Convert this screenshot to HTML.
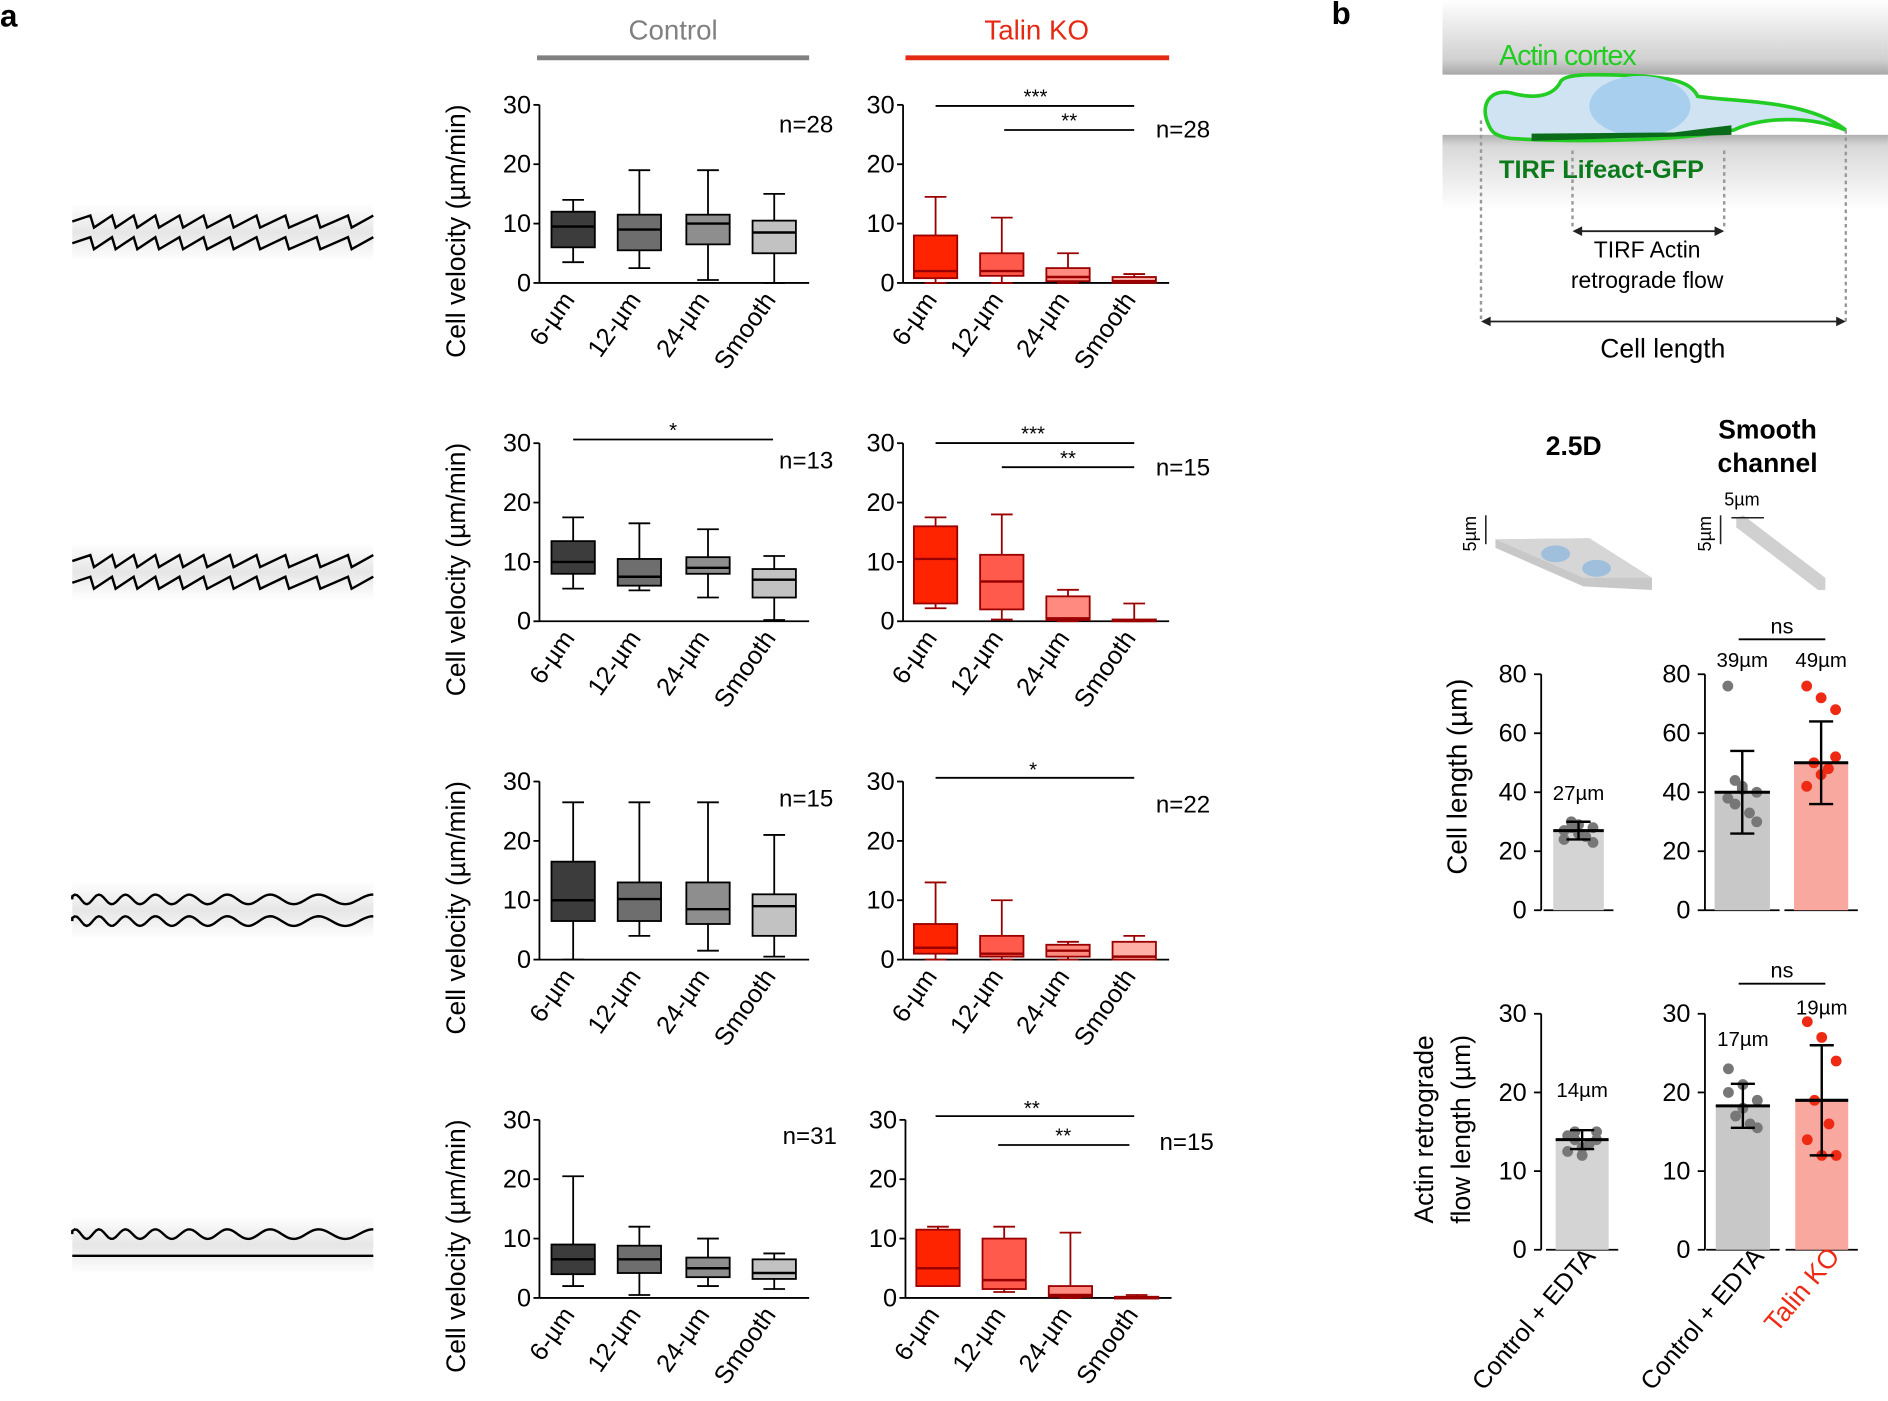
<!DOCTYPE html>
<html><head><meta charset="utf-8"><style>
html,body{margin:0;padding:0;background:#fff}
svg{display:block;font-family:"Liberation Sans",Arial,sans-serif}
</style></head><body>
<svg id="s" width="1888" height="1401" viewBox="0 0 1568 1163.6" xmlns="http://www.w3.org/2000/svg">
<defs>
<linearGradient id="gt" x1="0" y1="0" x2="0" y2="1"><stop offset="0" stop-color="#fff"/><stop offset="0.8" stop-color="#d0d0d0"/><stop offset="1" stop-color="#a8a8a8"/></linearGradient>
<linearGradient id="gb" x1="0" y1="0" x2="0" y2="1"><stop offset="0" stop-color="#b0b0b0"/><stop offset="0.15" stop-color="#d8d8d8"/><stop offset="1" stop-color="#fff"/></linearGradient>
<linearGradient id="ch" x1="0" y1="0" x2="0" y2="1"><stop offset="0" stop-color="#fff"/><stop offset="0.5" stop-color="#e6e6e6"/><stop offset="1" stop-color="#fff"/></linearGradient>
</defs>
<g id="g"></g>
<text x="0" y="22" font-size="26" font-weight="bold">a</text>
<text x="1106" y="20" font-size="26" font-weight="bold">b</text>
<text x="559" y="33" font-size="23" fill="#808080" text-anchor="middle">Control</text>
<line x1="446" y1="48" x2="672" y2="48" stroke="#808080" stroke-width="4"/>
<text x="861" y="33" font-size="23" fill="#e52a14" text-anchor="middle">Talin KO</text>
<line x1="752" y1="48" x2="971" y2="48" stroke="#e52a14" stroke-width="4"/>

<rect x="1198" y="0" width="370" height="62" fill="url(#gt)"/>
<rect x="1198" y="112" width="370" height="62" fill="url(#gb)"/>
<path d="M1236,103 C1228,85 1240,72 1258,78 C1275,82 1290,80 1296,68 C1300,60 1330,62 1360,63 C1395,65 1405,70 1410,80 C1440,85 1500,82 1533,108 C1500,95 1460,98 1440,108 C1390,118 1300,118 1255,115 C1240,113 1238,108 1236,103 Z" fill="#cfe3f3" stroke="#22cc22" stroke-width="3"/>
<ellipse cx="1362" cy="88" rx="42" ry="25" fill="#a9cfee"/>
<path d="M1272,117 L1438,112 L1438,104 L1390,110 L1272,111 Z" fill="#0a6b1a"/>
<text x="1245" y="54" font-size="24" fill="#22cc22" letter-spacing="-1">Actin cortex</text>
<text x="1245" y="148" font-size="21" font-weight="bold" fill="#0a7a1a">TIRF Lifeact-GFP</text>
<g stroke="#999" stroke-width="2" stroke-dasharray="3,3" fill="none">
<line x1="1230" y1="100" x2="1230" y2="268"/><line x1="1533" y1="108" x2="1533" y2="268"/>
<line x1="1306" y1="125" x2="1306" y2="190"/><line x1="1432" y1="125" x2="1432" y2="190"/>
</g>
<g stroke="#222" stroke-width="1.5"><line x1="1308" y1="192" x2="1430" y2="192"/><line x1="1232" y1="267" x2="1531" y2="267"/></g>
<path d="M1306,192 l8,-4 v8z M1432,192 l-8,-4 v8z M1230,267 l8,-4 v8z M1533,267 l-8,-4 v8z" fill="#222"/>
<text x="1368" y="214" font-size="19" text-anchor="middle">TIRF Actin</text>
<text x="1368" y="239" font-size="19" text-anchor="middle">retrograde flow</text>
<text x="1381" y="297" font-size="22" text-anchor="middle">Cell length</text>
<text x="1307" y="378" font-size="22" font-weight="bold" text-anchor="middle">2.5D</text>
<text x="1468" y="364" font-size="22" font-weight="bold" text-anchor="middle">Smooth</text>
<text x="1468" y="392" font-size="22" font-weight="bold" text-anchor="middle">channel</text>
<path d="M1242,448 L1320,447 L1372,480 L1372,490 L1315,487 L1242,455 Z" fill="#c8c8c8"/>
<path d="M1242,448 L1320,447 L1372,480 L1315,480 Z" fill="#d6d6d6"/>
<ellipse cx="1292" cy="460" rx="12" ry="7" fill="#9fbfdc"/><ellipse cx="1326" cy="472" rx="12" ry="7" fill="#9fbfdc"/>
<path d="M1442,430 L1448,428 L1516,480 L1516,490 L1510,490 L1442,438 Z" fill="#d0d0d0"/>
<g stroke="#222" stroke-width="1.3"><line x1="1234" y1="428" x2="1234" y2="452"/><line x1="1429" y1="428" x2="1429" y2="452"/><line x1="1438" y1="430" x2="1465" y2="430"/></g>
<text transform="translate(1226,458) rotate(-90)" font-size="15">5µm</text>
<text transform="translate(1421,458) rotate(-90)" font-size="15">5µm</text>
<text x="1432" y="420" font-size="15">5µm</text>
</svg>
<script>
const g=document.getElementById('g');let h='';
function L(x1,y1,x2,y2,c,w){h+=`<line x1="${x1}" y1="${y1}" x2="${x2}" y2="${y2}" stroke="${c||'#000'}" stroke-width="${w||1.5}"/>`}
function T(x,y,t,o){o=o||{};h+=`<text x="${x}" y="${y}" font-size="${o.s||20}" fill="${o.c||'#000'}" text-anchor="${o.a||'start'}"${o.r!==undefined?` transform="rotate(${o.r} ${x} ${y})"`:''}${o.b?' font-weight="bold"':''}>${t}</text>`}
const CC=['#3c3c3c','#6e6e6e','#8e8e8e','#c2c2c2'],KC=['#ff2400','#ff5a4c','#ff8a80','#ffb0a6'];
const rows=[235,516,797,1078];
const D=[
[[3.5,6,9.5,12,14],[2.5,5.5,9,11.5,19],[0.5,6.5,10,11.5,19],[0,5,8.5,10.5,15]],
[[0,0.8,2,8,14.5],[0,1.2,2,5,11],[0,0.3,1,2.5,5],[0,0,0.3,1,1.5]],
[[5.5,8,10,13.5,17.5],[5.2,6,7.5,10.5,16.5],[4,8,9,10.8,15.5],[0.2,4,7,8.8,11]],
[[2.2,3,10.5,16,17.5],[0.3,2,6.7,11.2,18],[0,0.2,0.5,4.2,5.3],[0,0,0.1,0.3,3]],
[[0,6.5,10,16.5,26.5],[4,6.5,10.2,13,26.5],[1.5,6,8.5,13,26.5],[0.5,4,9,11,21]],
[[0,1,2,6,13],[0,0.5,1,4,10],[0,0.5,1.5,2.5,3],[0,0,0.5,3,4]],
[[2,4,6.5,9,20.5],[0.5,4.2,6.5,8.8,12],[2,3.5,5,6.8,10],[1.5,3.2,4.2,6.5,7.5]],
[[2,2,5,11.5,12],[1,1.5,3,10,12],[0,0.2,0.5,2,11],[0,0,0.1,0.2,0.5]]];
const cats=['6-µm','12-µm','24-µm','Smooth'];
function box(ax,y0,data,cols,sc,xs){
  const Y=v=>y0-v*4.93;
  L(ax,y0,ax,y0-148);L(ax,y0,ax+(ax<700?224:221),y0);
  [0,10,20,30].forEach(v=>{L(ax-5,Y(v),ax,Y(v));T(ax-7,Y(v)+7,v,{a:'end',s:21})});
  data.forEach((d,i)=>{const x=xs[i],w=36;const s=sc;
    L(x,Y(d[0]),x,Y(d[1]),s);L(x,Y(d[3]),x,Y(d[4]),s);L(x-9,Y(d[0]),x+9,Y(d[0]),s);L(x-9,Y(d[4]),x+9,Y(d[4]),s);
    h+=`<rect x="${x-w/2}" y="${Y(d[3])}" width="${w}" height="${Math.max(Y(d[1])-Y(d[3]),1.5)}" fill="${cols[i]}" stroke="${s}" stroke-width="1.5"/>`;
    L(x-w/2,Y(d[2]),x+w/2,Y(d[2]),s,2);
    T(x+2,y0+14,cats[i],{a:'end',r:-55,s:21});
  });
  if(ax<700) T(386,y0-43,'Cell velocity (µm/min)',{a:'middle',r:-90,s:22});
}
rows.forEach((y0,r)=>{
  box(448,y0,D[2*r],CC,'#000',[476,531,588,643]);
  box(750+(r==3?2:0),y0,D[2*r+1],KC,'#9a0000',[777,832,887,942].map(v=>v+(r==3?2:0)));
});
T(647,110,'n=28');T(960,114,'n=28');
L(777,88,942,88);T(860,86,'***',{a:'middle',s:17});L(834,108,942,108);T(888,106,'**',{a:'middle',s:17});
L(476,365,642,365);T(559,363,'*',{a:'middle',s:17});T(647,389,'n=13');
L(777,368,942,368);T(858,366,'***',{a:'middle',s:17});L(832,388,942,388);T(887,386,'**',{a:'middle',s:17});T(960,395,'n=15');
T(647,670,'n=15');L(777,646,942,646);T(858,645,'*',{a:'middle',s:17});T(960,675,'n=22');
T(650,950,'n=31');L(777,927,942,927);T(857,926,'**',{a:'middle',s:17});L(829,951,938,951);T(883,949,'**',{a:'middle',s:17});T(963,955,'n=15');
function chan(y,t1,t2){h+=`<rect x="60" y="${y-24}" width="250" height="48" fill="url(#ch)"/>`;
 [t1,t2].forEach((t,k)=>{const yy=y+(k?9:-9);let p='';
  if(t=='z'){p=`M60,${yy}`;const pts=[18,36,54,72,92,112,134,156,180,206,232];pts.forEach(d=>{p+=` L${60+d-3},${yy-5} L${60+d},${yy+5}`});p+=` L310,${yy-5}`;}
  else if(t=='w'){p=`M60,${yy}`;let ph=0;for(let x=60;x<=310;x+=2){ph+=2*Math.PI*2/(18+(x-60)*0.12);p+=` L${x},${(yy-4*Math.sin(ph)).toFixed(1)}`}}
  else p=`M60,${yy} L310,${yy}`;
  h+=`<path d="${p}" fill="none" stroke="#000" stroke-width="2"/>`;});}
chan(193,'z','z');chan(475,'z','z');chan(756,'w','w');chan(1034,'w','s');
function bars(ax,y0,top,max,ticks,barsd){
 const Y=v=>y0-(v/max)*(y0-top);
 L(ax,y0,ax,top);ticks.forEach(v=>{L(ax-6,Y(v),ax,Y(v));T(ax-12,Y(v)+7,v,{a:'end',s:21})});
 barsd.forEach(b=>{L(b.x0-8,y0,b.x1+8,y0);
  h+=`<rect x="${b.x0}" y="${Y(b.m)}" width="${b.x1-b.x0}" height="${y0-Y(b.m)}" fill="${b.c}"/>`;
  const cx=(b.x0+b.x1)/2;b.p.forEach((v,i)=>{h+=`<circle cx="${cx+((i*7)%5-2)*6}" cy="${Y(v)}" r="4.5" fill="${b.pc}"/>`});
  L(cx,Y(b.m-b.sd),cx,Y(b.m+b.sd),'#000',2);L(cx-10,Y(b.m+b.sd),cx+10,Y(b.m+b.sd),'#000',2);L(cx-10,Y(b.m-b.sd),cx+10,Y(b.m-b.sd),'#000',2);
  L(b.x0,Y(b.m),b.x1,Y(b.m),'#000',2.5);
  T(cx,Y(b.lab)-6,b.lt,{a:'middle',s:17});});
}
bars(1280,756,560,80,[0,20,40,60,80],[{x0:1290,x1:1332,m:27,sd:3,c:'#d4d4d4',pc:'#777',p:[24,26,28,30,25,27,29,23,28],lab:35,lt:'27µm'}]);
bars(1416,756,560,80,[0,20,40,60,80],[
 {x0:1424,x1:1470,m:40,sd:14,c:'#c8c8c8',pc:'#777',p:[76,42,40,36,33,38,41,30,44],lab:80,lt:'39µm'},
 {x0:1490,x1:1535,m:50,sd:14,c:'#f8a89e',pc:'#ee2a14',p:[76,72,68,50,48,42,46,52],lab:80,lt:'49µm'}]);
bars(1280,1038,842,30,[0,10,20,30],[{x0:1292,x1:1336,m:14,sd:1.2,c:'#d4d4d4',pc:'#777',p:[12.5,13,14,15,13.5,14.5,12,15,14],lab:18.5,lt:'14µm'}]);
bars(1416,1038,842,30,[0,10,20,30],[
 {x0:1425,x1:1470,m:18.3,sd:2.8,c:'#c8c8c8',pc:'#777',p:[23,21,19,17,16,20,18,15.5],lab:25,lt:'17µm'},
 {x0:1491,x1:1535,m:19,sd:7,c:'#f8a89e',pc:'#ee2a14',p:[29,27,24,19,16,14,12,12],lab:29,lt:'19µm'}]);
L(1444,531,1516,531);T(1480,526,'ns',{a:'middle',s:18});
L(1444,817,1516,817);T(1480,812,'ns',{a:'middle',s:18});
T(1218,645,'Cell length (µm)',{a:'middle',r:-90,s:23});
T(1190,938,'Actin retrograde',{a:'middle',r:-90,s:22});
T(1221,938,'flow length (µm)',{a:'middle',r:-90,s:22});
T(1326,1044,'Control + EDTA',{a:'end',r:-50,s:21});
T(1466,1044,'Control + EDTA',{a:'end',r:-50,s:21});
T(1529,1044,'Talin KO',{a:'end',r:-50,s:22,c:'#ee2a14'});
g.innerHTML=h;
</script>
</body></html>
